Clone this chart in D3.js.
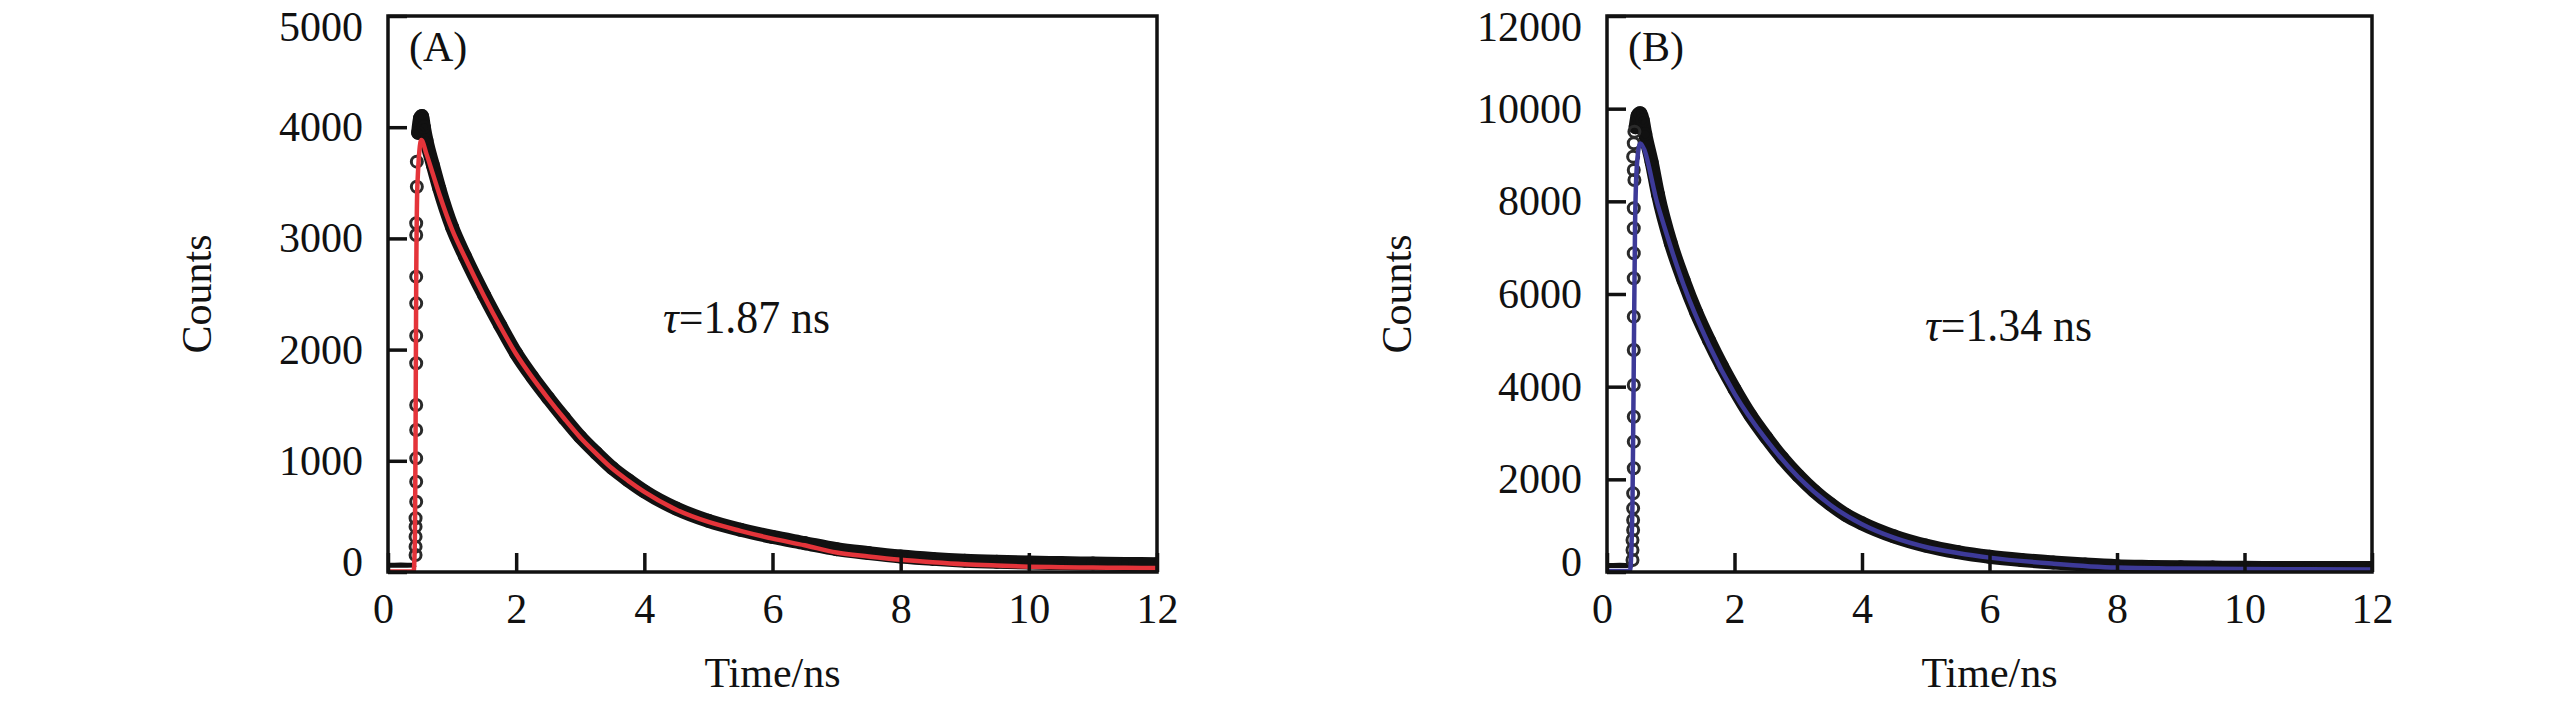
<!DOCTYPE html>
<html>
<head>
<meta charset="utf-8">
<script src="https://cdn.jsdelivr.net/npm/d3@7"></script>
<style>
  body { margin: 0; background: #fff; }
  svg text { font-family: "Liberation Serif", "Times New Roman", serif; fill: #111; }
</style>
</head>
<body>
<svg id="chart" width="2567" height="708"></svg>
<script>
// shared axis ticks
const timeTicks = [0, 2, 4, 6, 8, 10, 12];
const countTicksA = [0, 1000, 2000, 3000, 4000, 5000];
const countTicksB = [0, 2000, 4000, 6000, 8000, 10000, 12000];

// ---- panel A (tau = 1.87 ns) ----
// flat part before the pulse
const baseTimeA = [0, 0.1, 0.2, 0.3, 0.4, 0.43];
const baseCountA = [60, 60, 62, 60, 62, 70];
// open circles on the rising edge
const riseTimeA = [0.43, 0.43, 0.43, 0.43, 0.43, 0.44, 0.44, 0.44, 0.44, 0.44, 0.44, 0.44, 0.44, 0.44, 0.44, 0.44, 0.45, 0.45];
const riseCountA = [153, 228, 318, 408, 483, 632, 812, 1022, 1277, 1502, 1877, 2125, 2416, 2656, 3030, 3136, 3465, 3690];
// dense decay (read as the middle of the black band)
const decayTimeA = [0.47, 0.5, 0.53, 0.56, 0.6, 0.7, 0.8, 1.0, 1.2, 1.5, 1.75, 2.0, 2.25, 2.5, 2.75, 3.0, 3.25, 3.5, 3.75, 4.0, 4.5, 5.0, 5.5, 6.0, 6.5, 7.0, 7.5, 8.0, 8.5, 9.0, 9.5, 10.0, 10.5, 11.0, 11.5, 12.0];
const decayCountA = [3950, 4080, 4100, 4000, 3880, 3660, 3450, 3100, 2840, 2490, 2220, 1965, 1755, 1565, 1385, 1215, 1070, 935, 825, 725, 570, 460, 380, 315, 260, 205, 170, 140, 118, 102, 92, 85, 80, 76, 73, 70];
// fitted curve
const fitTimeA = [0, 0.4, 0.42, 0.43, 0.44, 0.46, 0.52, 0.6, 0.7, 0.8, 1.0, 1.2, 1.5, 1.75, 2.0, 2.25, 2.5, 2.75, 3.0, 3.25, 3.5, 3.75, 4.0, 4.5, 5.0, 5.5, 6.0, 6.5, 7.0, 7.5, 8.0, 8.5, 9.0, 9.5, 10.0, 10.5, 11.0, 11.5, 12.0];
const fitCountA = [5, 5, 300, 1200, 2600, 3500, 3885, 3760, 3580, 3400, 3080, 2830, 2480, 2210, 1960, 1750, 1560, 1380, 1210, 1065, 930, 820, 720, 560, 450, 370, 300, 240, 175, 140, 110, 88, 70, 58, 48, 43, 40, 38, 36];

// ---- panel B (tau = 1.34 ns) ----
const baseTimeB = [0, 0.1, 0.2, 0.3, 0.38, 0.4];
const baseCountB = [140, 140, 145, 140, 145, 160];
const riseTimeB = [0.4, 0.4, 0.4, 0.41, 0.41, 0.41, 0.41, 0.42, 0.42, 0.42, 0.42, 0.42, 0.42, 0.42, 0.42, 0.42, 0.42, 0.43, 0.42, 0.41, 0.42, 0.43];
const riseCountB = [259, 475, 690, 906, 1122, 1374, 1698, 2238, 2813, 3352, 4036, 4792, 5511, 6339, 6879, 7418, 7850, 8461, 8677, 8964, 9253, 9504];
const decayTimeB = [0.45, 0.48, 0.52, 0.56, 0.6, 0.7, 0.8, 1.0, 1.2, 1.4, 1.6, 1.8, 2.0, 2.25, 2.5, 2.75, 3.0, 3.25, 3.5, 3.75, 4.0, 4.5, 5.0, 5.5, 6.0, 6.5, 7.0, 7.5, 8.0, 8.5, 9.0, 9.5, 10.0, 10.5, 11.0, 11.5, 12.0];
const decayCountB = [9600, 9850, 9900, 9750, 9450, 8850, 8150, 7100, 6300, 5600, 5000, 4450, 3950, 3380, 2900, 2460, 2080, 1750, 1470, 1230, 1050, 770, 570, 430, 330, 260, 205, 160, 125, 110, 100, 95, 90, 88, 85, 85, 85];
const fitTimeB = [0, 0.36, 0.4, 0.42, 0.44, 0.47, 0.52, 0.8, 1.2, 1.6, 2.0, 2.5, 3.0, 3.5, 4.0, 4.5, 5.0, 5.5, 6.0, 7.0, 8.0, 9.0, 10.0, 11.0, 12.0];
const fitCountB = [20, 20, 1500, 4500, 7500, 8800, 9250, 7900, 6200, 4900, 3850, 2850, 2050, 1450, 1030, 740, 540, 410, 310, 180, 95, 75, 65, 60, 55];

const svg = d3.select("#chart");
svg.append("rect").attr("width", 2567).attr("height", 708).attr("fill", "#fff");

const plotTop = 16, plotBottom = 572;
const font = "Liberation Serif, Times New Roman, serif";

drawPanel({
	id: "A", left: 388, right: 1157, yMax: 5000, yTicks: countTicksA,
	fitColor: "#e4343a", tauText: "=1.87 ns", tauX: 663, tauY: 333, yLabelX: 211,
	base: d3.zip(baseTimeA, baseCountA), rise: d3.zip(riseTimeA, riseCountA),
	decay: d3.zip(decayTimeA, decayCountA), fit: d3.zip(fitTimeA, fitCountA)
});
drawPanel({
	id: "B", left: 1607, right: 2372, yMax: 12000, yTicks: countTicksB,
	fitColor: "#3d3a98", tauText: "=1.34 ns", tauX: 1925, tauY: 341, yLabelX: 1411,
	base: d3.zip(baseTimeB, baseCountB), rise: d3.zip(riseTimeB, riseCountB),
	decay: d3.zip(decayTimeB, decayCountB), fit: d3.zip(fitTimeB, fitCountB)
});

function drawPanel(cfg) {
	const x = d3.scaleLinear().domain([0, 12]).range([cfg.left, cfg.right]);
	const y = d3.scaleLinear().domain([0, cfg.yMax]).range([plotBottom, plotTop]);
	const g = svg.append("g");

	// keep the data inside the frame
	g.append("clipPath").attr("id", "clip" + cfg.id)
		.append("rect")
		.attr("x", cfg.left).attr("y", plotTop)
		.attr("width", cfg.right - cfg.left).attr("height", plotBottom - plotTop);
	const data = g.append("g").attr("clip-path", "url(#clip" + cfg.id + ")");

	const line = d3.line().x(d => x(d[0])).y(d => y(d[1])).curve(d3.curveMonotoneX);
	const straight = d3.line().x(d => x(d[0])).y(d => y(d[1]));

	data.append("path").datum(cfg.base)
		.attr("d", straight)
		.attr("fill", "none").attr("stroke", "#111").attr("stroke-width", 5);

	// the measured points, so dense they make a black band
	data.append("path").datum(cfg.decay)
		.attr("d", line)
		.attr("fill", "none").attr("stroke", "#111")
		.attr("stroke-width", 14).attr("stroke-linejoin", "round").attr("stroke-linecap", "round");
	data.selectAll("circle.decay").data(cfg.decay).join("circle")
		.attr("class", "decay")
		.attr("cx", d => x(d[0])).attr("cy", d => y(d[1]))
		.attr("r", 5.5).attr("fill", "none").attr("stroke", "#111").attr("stroke-width", 3);

	data.selectAll("circle.rise").data(cfg.rise).join("circle")
		.attr("class", "rise")
		.attr("cx", d => x(d[0])).attr("cy", d => y(d[1]))
		.attr("r", 5.5).attr("fill", "none").attr("stroke", "#2a2a2a").attr("stroke-width", 3);

	// fitted curve on top
	data.append("path").datum(cfg.fit)
		.attr("d", line)
		.attr("fill", "none").attr("stroke", cfg.fitColor).attr("stroke-width", 4.5);

	// axes with inward ticks
	const xAxis = g.append("g")
		.attr("transform", "translate(0," + plotBottom + ")")
		.call(d3.axisBottom(x).tickValues(timeTicks).tickSize(-19).tickPadding(21).tickFormat(d3.format("d")));
	const yAxis = g.append("g")
		.attr("transform", "translate(" + cfg.left + ",0)")
		.call(d3.axisLeft(y).tickValues(cfg.yTicks).tickSize(-19).tickPadding(25).tickFormat(d3.format("d")));

	[xAxis, yAxis].forEach(a => {
		a.select(".domain").remove();
		a.selectAll(".tick line").attr("stroke", "#111").attr("stroke-width", 3.5);
		a.selectAll(".tick text").attr("font-family", font).attr("font-size", 42).attr("fill", "#111");
	});
	xAxis.selectAll(".tick text").filter(d => d === 0).attr("dx", -5);
	// end labels pulled inward as in the original
	yAxis.selectAll(".tick text").filter(d => d === 0).attr("dy", "0.32em").attr("y", -10);
	yAxis.selectAll(".tick text").filter(d => d === cfg.yMax).attr("dy", "0.32em").attr("y", 11);

	// frame
	g.append("rect")
		.attr("x", cfg.left).attr("y", plotTop)
		.attr("width", cfg.right - cfg.left).attr("height", plotBottom - plotTop)
		.attr("fill", "none").attr("stroke", "#111").attr("stroke-width", 3.5);

	// labels
	g.append("text")
		.attr("x", (cfg.left + cfg.right) / 2).attr("y", 687)
		.attr("text-anchor", "middle").attr("font-size", 42)
		.text("Time/ns");
	g.append("text")
		.attr("transform", "translate(" + cfg.yLabelX + "," + (plotTop + plotBottom) / 2 + ") rotate(-90)")
		.attr("text-anchor", "middle").attr("font-size", 42)
		.text("Counts");
	g.append("text")
		.attr("x", cfg.left + 21).attr("y", 61)
		.attr("font-size", 42)
		.text("(" + cfg.id + ")");

	const tau = g.append("text")
		.attr("x", cfg.tauX).attr("y", cfg.tauY)
		.attr("font-size", 46)
		.attr("textLength", 167).attr("lengthAdjust", "spacingAndGlyphs");
	tau.append("tspan").attr("font-style", "italic").text("τ");
	tau.append("tspan").text(cfg.tauText);
}
</script>
</body>
</html>
